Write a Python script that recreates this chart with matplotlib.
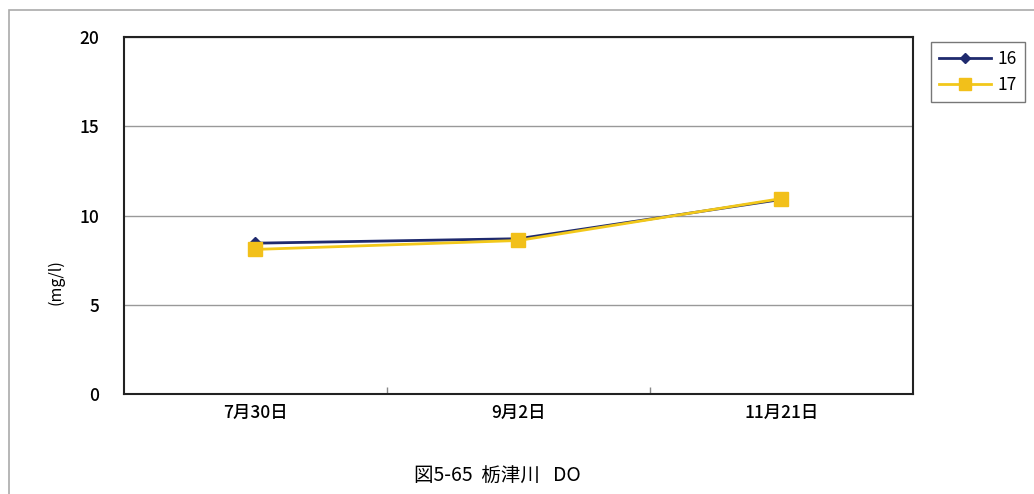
import matplotlib.pyplot as plt
from matplotlib.patches import Rectangle

plt.rcParams['font.family'] = ['Noto Sans CJK JP', 'DejaVu Sans']

# データ
dates = ['7月30日', '9月2日', '11月21日']
do_16 = [8.45, 8.7, 10.9]
do_17 = [8.1, 8.6, 10.95]
yticks = [0, 5, 10, 15, 20]

fig = plt.figure(figsize=(10.34, 4.94), dpi=100)
ax = fig.add_axes([0.1199, 0.2024, 0.763, 0.7227])

x = range(len(dates))
ax.plot(x, do_16, color='#1f2a6e', marker='D', markersize=6, linewidth=2, label='16')
ax.plot(x, do_17, color='#f2c81a', marker='s', markersize=10,
        markerfacecolor='#f2c01a', markeredgecolor='#f2c01a', linewidth=2, label='17')

ax.set_xlim(-0.5, 2.5)
ax.set_ylim(0, 20)
ax.set_yticks(yticks)
ax.set_xticks(list(x))
ax.set_xticklabels(dates)
ax.set_xticks([0.5, 1.5], minor=True)
ax.tick_params(axis='x', which='major', length=0, pad=7, labelsize=12.5)
ax.tick_params(axis='x', which='minor', direction='in', length=5, width=1, color='#888888')
ax.tick_params(axis='y', length=0, pad=18, labelsize=12.5)
for lbl in ax.get_xticklabels() + ax.get_yticklabels():
    lbl.set_fontweight('medium')
ax.grid(axis='y', color='#999999', linewidth=1)
for s in ax.spines.values():
    s.set_linewidth(1.5)
    s.set_color('#222222')

ax.set_ylabel('(mg/l)', fontsize=11.5)
ax.yaxis.set_label_coords(-0.076, 0.314)

leg = ax.legend(loc='upper left', bbox_to_anchor=(1.012, 1.01), fontsize=12.5,
                frameon=True, fancybox=False, edgecolor='#555555',
                handlelength=3.0, handletextpad=0.4, borderpad=0.45,
                labelspacing=0.45, markerscale=0.8)
leg.get_frame().set_linewidth(1)

fig.text(0.4815, 0.035, '図5-65  栃津川   DO', ha='center', va='center', fontsize=14)

# 外枠
fig.patches.append(Rectangle((9 / 1034, -0.1), 1.2, 1 - 10 / 494 + 0.1,
                             transform=fig.transFigure, fill=False,
                             edgecolor='#aaaaaa', linewidth=1.2))

fig.savefig('out.png', dpi=100, facecolor='white')
